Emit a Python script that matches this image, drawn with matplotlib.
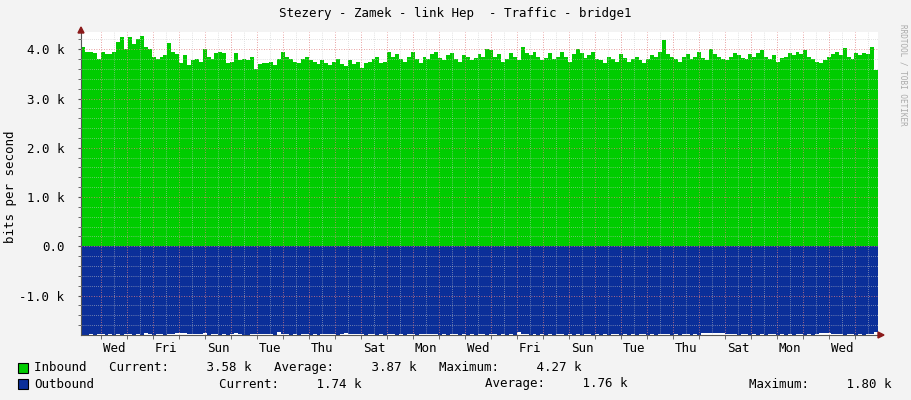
import matplotlib
matplotlib.use("Agg")
import matplotlib.pyplot as plt
import numpy as np

title = "Stezery - Zamek - link Hep  - Traffic - bridge1"
day_labels = ["Wed", "Fri", "Sun", "Tue", "Thu", "Sat", "Mon", "Wed", "Fri", "Sun", "Tue", "Thu", "Sat", "Mon", "Wed"]
ytick_vals = [-1.0, 0.0, 1.0, 2.0, 3.0, 4.0]
ytick_labels = ["-1.0 k", "0.0", "1.0 k", "2.0 k", "3.0 k", "4.0 k"]

inbound = [4.05, 3.95, 3.95, 3.93, 3.80, 3.95, 3.90, 3.90, 3.95, 4.15, 4.25, 4.00, 4.25, 4.10, 4.20, 4.27, 4.05, 4.00,
           3.85, 3.80, 3.85, 3.88, 4.12, 3.95, 3.90, 3.72, 3.88, 3.68, 3.78, 3.80, 3.75, 4.00, 3.85, 3.80, 3.93, 3.95,
           3.93, 3.72, 3.75, 3.92, 3.78, 3.80, 3.78, 3.85, 3.60, 3.70, 3.73, 3.72, 3.75, 3.68, 3.80, 3.95, 3.85, 3.80,
           3.75, 3.72, 3.80, 3.85, 3.78, 3.75, 3.70, 3.78, 3.72, 3.68, 3.75, 3.80, 3.70, 3.65, 3.78, 3.70, 3.75, 3.62,
           3.72, 3.75, 3.80, 3.85, 3.72, 3.75, 3.95, 3.85, 3.90, 3.80, 3.75, 3.85, 3.95, 3.80, 3.72, 3.85, 3.80, 3.90,
           3.95, 3.82, 3.78, 3.88, 3.92, 3.80, 3.75, 3.88, 3.85, 3.78, 3.82, 3.90, 3.85, 4.00, 3.98, 3.85, 3.90, 3.75,
           3.80, 3.92, 3.85, 3.78, 4.05, 3.92, 3.88, 3.95, 3.85, 3.78, 3.82, 3.92, 3.80, 3.85, 3.95, 3.85, 3.75, 3.90,
           4.00, 3.92, 3.82, 3.88, 3.95, 3.80, 3.78, 3.72, 3.85, 3.80, 3.75, 3.90, 3.82, 3.75, 3.80, 3.85, 3.78, 3.72,
           3.80, 3.88, 3.85, 3.95, 4.18, 3.90, 3.85, 3.80, 3.75, 3.85, 3.90, 3.80, 3.85, 3.95, 3.82, 3.78, 4.00, 3.90,
           3.85, 3.80, 3.78, 3.85, 3.92, 3.88, 3.82, 3.80, 3.90, 3.85, 3.92, 3.98, 3.85, 3.80, 3.88, 3.75, 3.82, 3.85,
           3.92, 3.88, 3.95, 3.90, 3.98, 3.85, 3.80, 3.75, 3.72, 3.78, 3.85, 3.90, 3.95, 3.88, 4.02, 3.85, 3.80, 3.92,
           3.88, 3.92, 3.90, 4.05, 3.58]
outbound = [1.79, 1.79, 1.77, 1.79, 1.78, 1.77, 1.79, 1.78, 1.79, 1.77, 1.79, 1.78, 1.77, 1.79, 1.78, 1.79, 1.75, 1.78,
            1.79, 1.77, 1.78, 1.79, 1.78, 1.77, 1.76, 1.76, 1.76, 1.77, 1.77, 1.78, 1.77, 1.76, 1.79, 1.78, 1.77, 1.79,
            1.78, 1.79, 1.77, 1.76, 1.78, 1.79, 1.79, 1.78, 1.77, 1.77, 1.77, 1.77, 1.78, 1.79, 1.73, 1.77, 1.78, 1.79,
            1.78, 1.79, 1.77, 1.78, 1.79, 1.78, 1.79, 1.77, 1.77, 1.77, 1.78, 1.79, 1.77, 1.76, 1.77, 1.77, 1.77, 1.78,
            1.79, 1.78, 1.77, 1.79, 1.78, 1.79, 1.78, 1.77, 1.79, 1.78, 1.79, 1.78, 1.77, 1.79, 1.78, 1.77, 1.77, 1.77,
            1.78, 1.79, 1.78, 1.79, 1.78, 1.77, 1.79, 1.78, 1.79, 1.78, 1.79, 1.77, 1.78, 1.79, 1.78, 1.77, 1.79, 1.78,
            1.79, 1.78, 1.79, 1.74, 1.77, 1.78, 1.79, 1.78, 1.79, 1.77, 1.79, 1.78, 1.79, 1.78, 1.77, 1.79, 1.78, 1.79,
            1.78, 1.79, 1.78, 1.77, 1.79, 1.78, 1.79, 1.78, 1.79, 1.78, 1.77, 1.79, 1.78, 1.79, 1.78, 1.79, 1.77, 1.78,
            1.79, 1.78, 1.79, 1.77, 1.77, 1.78, 1.79, 1.78, 1.79, 1.77, 1.78, 1.79, 1.78, 1.79, 1.76, 1.76, 1.76, 1.76,
            1.76, 1.76, 1.77, 1.77, 1.78, 1.79, 1.77, 1.78, 1.79, 1.78, 1.79, 1.78, 1.79, 1.78, 1.77, 1.79, 1.78, 1.79,
            1.78, 1.79, 1.78, 1.77, 1.79, 1.78, 1.79, 1.78, 1.76, 1.76, 1.76, 1.77, 1.77, 1.78, 1.79, 1.78, 1.77, 1.79,
            1.78, 1.79, 1.77, 1.78, 1.74]

plt.rcParams['font.family'] = ['DejaVu Sans Mono']
fig = plt.figure(figsize=(9.11, 4.0), dpi=100, facecolor='#f3f3f3')
W, H = 911, 400
x0, x1, y0, y1 = 81, 878, 32, 335
ax = fig.add_axes([x0 / W, 1 - y1 / H, (x1 - x0) / W, (y1 - y0) / H])
ax.set_facecolor('white')

ndays = 797 / 26.0
first_mid = 20 / 26.0
n = len(inbound)
xs = np.linspace(0, ndays, n + 1)
inb = np.append(inbound, inbound[-1])
outb = -np.append(outbound, outbound[-1])
ax.fill_between(xs, 0, inb, step='post', color='#00cc00', lw=0, zorder=2)
ax.fill_between(xs, 0, outb, step='post', color='#0b2f99', lw=0, zorder=2)

ymin, ymax = -1.80, 4.35
ax.set_xlim(0, ndays)
ax.set_ylim(ymin, ymax)

for v in np.arange(-1.6, 4.4, 0.2):
    if abs(v - round(v)) > 1e-6:
        ax.axhline(v, color='#c8c8c8', lw=0.5, ls=(0, (1, 2)), zorder=3)
for v in ytick_vals:
    ax.axhline(v, color='#e08080', lw=0.6, ls=(0, (1, 2)), zorder=3)
mids = np.arange(first_mid, ndays, 1.0)
for m in mids:
    ax.axvline(m, color='#e08080', lw=0.6, ls=(0, (1, 2)), zorder=3)
    if m + 0.5 < ndays:
        ax.axvline(m + 0.5, color='#c8c8c8', lw=0.5, ls=(0, (1, 2)), zorder=3)

for s in ['top', 'right']:
    ax.spines[s].set_visible(False)
for s in ['left', 'bottom']:
    ax.spines[s].set_color('#555555')
    ax.spines[s].set_linewidth(0.8)

fs = 9
ax.set_yticks(ytick_vals)
ax.set_yticklabels(ytick_labels, fontsize=fs)
ax.set_yticks(np.arange(-1.6, 4.4, 0.2), minor=True)
label_pos = [first_mid + 0.5 + 2 * i for i in range(len(day_labels))]
ax.set_xticks(label_pos)
ax.set_xticklabels(day_labels, fontsize=fs)
ax.set_xticks(mids, minor=True)
ax.tick_params(axis='x', which='major', length=0, pad=5)
ax.tick_params(axis='x', which='minor', length=3, color='#555555', direction='out')
ax.tick_params(axis='y', which='both', length=2, color='#555555', pad=10)
fig.text(11 / W, 1 - 187 / H, "bits per second", rotation=90, ha='center', va='center', fontsize=fs)

fig.patches.append(plt.Polygon([[x0 / W - 3 / W, 1 - 33 / H], [x0 / W + 3 / W, 1 - 33 / H], [x0 / W, 1 - 27 / H]],
                               transform=fig.transFigure, color='#8b1a1a'))
fig.patches.append(plt.Polygon([[884 / W, 1 - y1 / H], [878 / W, 1 - (y1 - 3) / H], [878 / W, 1 - (y1 + 3) / H]],
                               transform=fig.transFigure, color='#8b1a1a'))

fig.text(455 / W, 1 - 14 / H, title, ha='center', va='center', fontsize=fs)
fig.text(903 / W, 1 - 75 / H, "RRDTOOL / TOBI OETIKER", rotation=270, ha='center', va='center',
         fontsize=5.5, color='#aaaaaa')

def box(xp, yp, c):
    fig.patches.append(plt.Rectangle((xp / W, 1 - (yp + 5) / H), 10 / W, 10 / H, transform=fig.transFigure,
                                     facecolor=c, edgecolor='black', lw=0.8))
box(18, 368, '#00cc00')
box(18, 384, '#0b2f99')
fig.text(34 / W, 1 - 368 / H, "Inbound   Current:     3.58 k   Average:     3.87 k   Maximum:     4.27 k",
         fontsize=fs, va='center')
fig.text(34 / W, 1 - 384 / H, "Outbound", fontsize=fs, va='center')
fig.text(219 / W, 1 - 384 / H, "Current:     1.74 k", fontsize=fs, va='center')
fig.text(485 / W, 1 - 384 / H, "Average:     1.76 k", fontsize=fs, va='center')
fig.text(749 / W, 1 - 384 / H, "Maximum:     1.80 k", fontsize=fs, va='center')

fig.savefig("out.png", dpi=100, facecolor=fig.get_facecolor())
